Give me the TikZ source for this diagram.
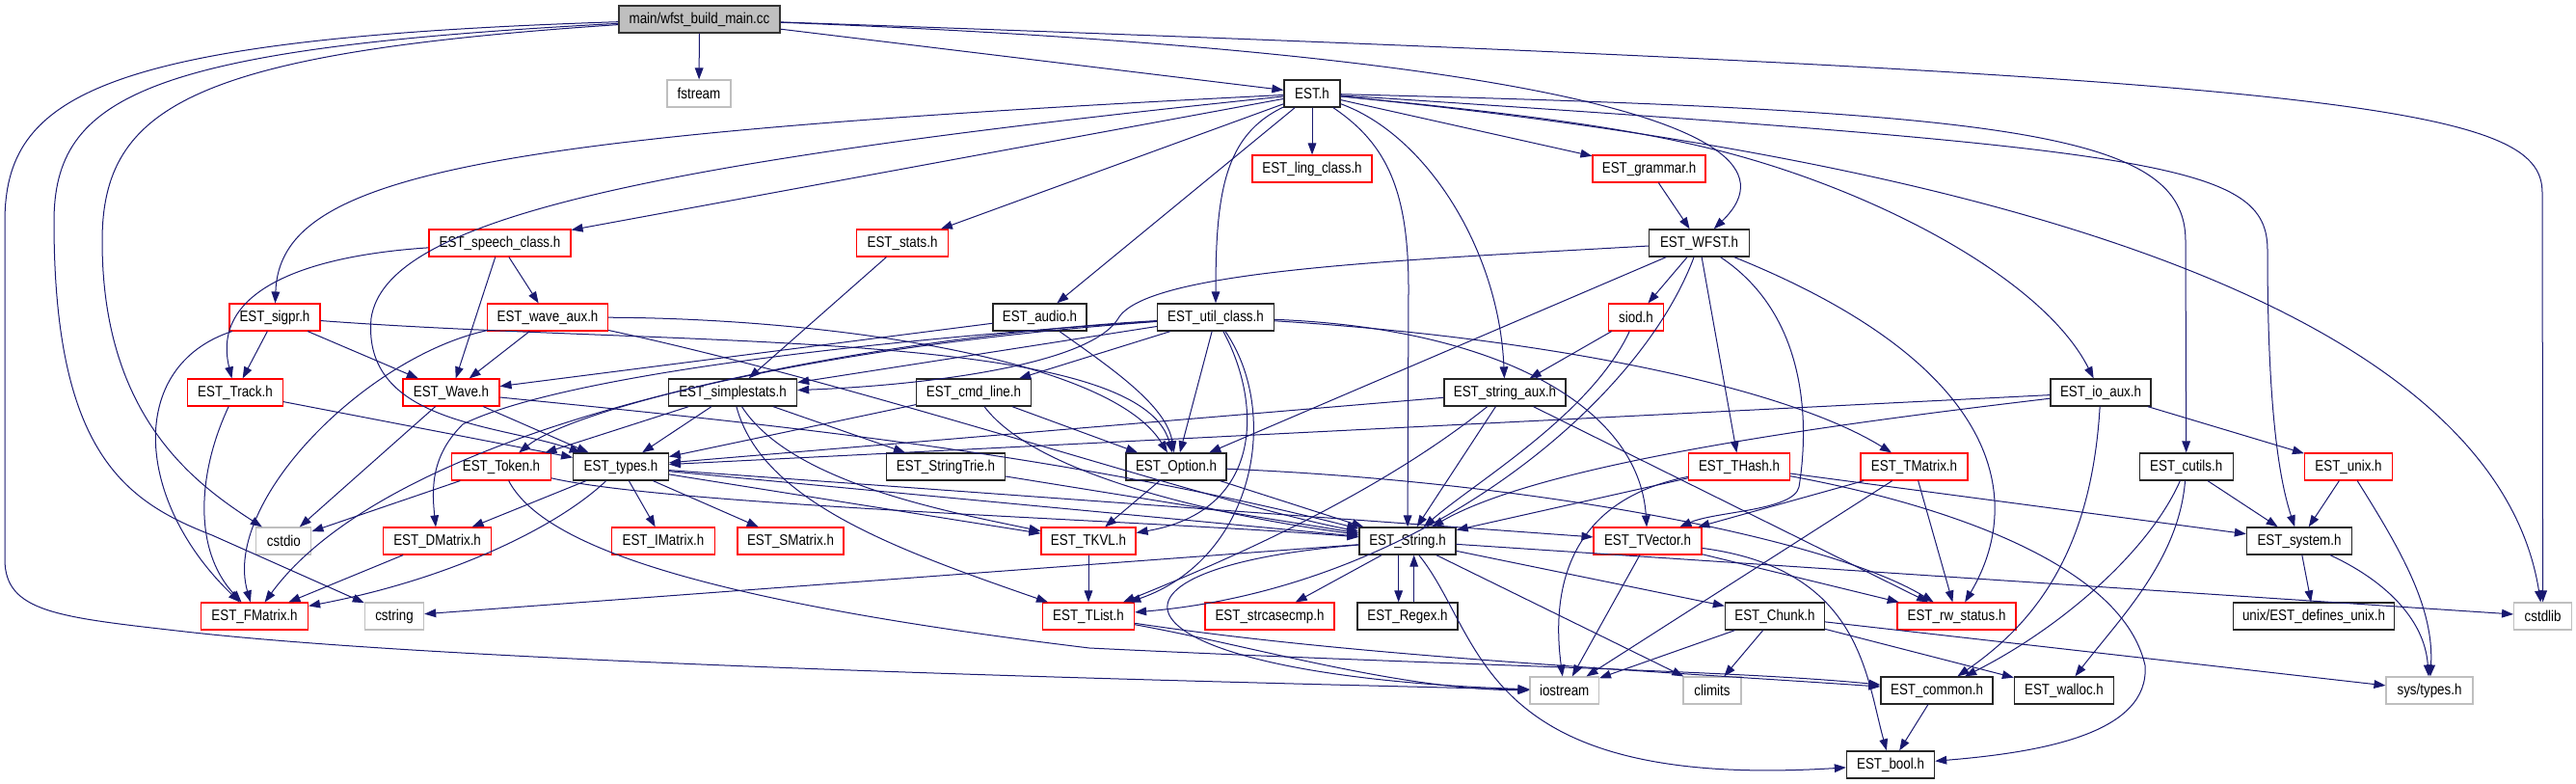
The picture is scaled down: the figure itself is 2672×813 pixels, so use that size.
\documentclass[tikz,border=0pt]{standalone}
\usepackage{fontspec}
\setmainfont{Liberation Sans}[FakeStretch=0.85]
\usetikzlibrary{arrows.meta}
\definecolor{edgeblue}{RGB}{25,25,112}
\definecolor{nodegray}{RGB}{191,191,191}
\definecolor{nodered}{RGB}{255,0,0}
\begin{document}
\begin{tikzpicture}[x=0.75pt,y=-0.75pt,
  box/.style={rectangle, minimum height=21pt, inner sep=0pt, fill=white, font=\fontsize{11.8}{13}\selectfont, text=black},
  docnode/.style={box, draw=black!85, line width=1pt},
  trnode/.style={box, draw=nodered, line width=0.85pt},
  sysnode/.style={box, draw=nodegray, line width=0.85pt},
  rootnode/.style={box, draw=black!80, fill=nodegray, line width=1.2pt},
  dep/.style={draw=edgeblue, line width=0.75pt, -{Triangle[length=9pt,width=6.5pt]}}]
\useasboundingbox (0,0) rectangle (2672,813);

% ---------- nodes ----------
\node[rootnode, minimum width=125.25pt] (main) at (725.5,20) {main/wfst\_build\_main.cc};
\node[sysnode, minimum width=49.5pt] (fstream) at (725,97) {fstream};
\node[docnode, minimum width=43.5pt] (est) at (1361,97) {EST.h};
\node[trnode, minimum width=93pt] (ling) at (1361,175) {EST\_ling\_class.h};
\node[trnode, minimum width=87.75pt] (grammar) at (1710.5,175) {EST\_grammar.h};
\node[trnode, minimum width=110.25pt] (speech) at (518.5,252) {EST\_speech\_class.h};
\node[trnode, minimum width=71.25pt] (stats) at (936,252) {EST\_stats.h};
\node[docnode, minimum width=78pt] (wfst) at (1762.5,252) {EST\_WFST.h};
\node[trnode, minimum width=70.5pt] (sigpr) at (285,329) {EST\_sigpr.h};
\node[trnode, minimum width=93.75pt] (waveaux) at (568,329) {EST\_wave\_aux.h};
\node[docnode, minimum width=72.75pt] (audio) at (1078.5,329) {EST\_audio.h};
\node[docnode, minimum width=90.75pt] (util) at (1261,329) {EST\_util\_class.h};
\node[trnode, minimum width=42.75pt] (siod) at (1697,329) {siod.h};
\node[trnode, minimum width=74.25pt] (track) at (244,407) {EST\_Track.h};
\node[trnode, minimum width=75pt] (wave) at (468,407) {EST\_Wave.h};
\node[docnode, minimum width=99.75pt] (simple) at (760,407) {EST\_simplestats.h};
\node[docnode, minimum width=89.25pt] (cmdline) at (1010,407) {EST\_cmd\_line.h};
\node[docnode, minimum width=94.5pt] (straux) at (1561,407) {EST\_string\_aux.h};
\node[docnode, minimum width=78pt] (ioaux) at (2179,407) {EST\_io\_aux.h};
\node[trnode, minimum width=77.25pt] (token) at (520,484) {EST\_Token.h};
\node[docnode, minimum width=73.9pt] (types) at (644,484) {EST\_types.h};
\node[docnode, minimum width=92.25pt] (trie) at (981,484) {EST\_StringTrie.h};
\node[docnode, minimum width=78pt] (option) at (1220,484) {EST\_Option.h};
\node[trnode, minimum width=78.75pt] (thash) at (1804,484) {EST\_THash.h};
\node[trnode, minimum width=83.25pt] (tmatrix) at (1985.5,484) {EST\_TMatrix.h};
\node[docnode, minimum width=72.75pt] (cutils) at (2267.7,484) {EST\_cutils.h};
\node[trnode, minimum width=68.25pt] (unix) at (2436,484) {EST\_unix.h};
\node[sysnode, minimum width=42.75pt] (cstdio) at (294.4,561) {cstdio};
\node[trnode, minimum width=84pt] (dmatrix) at (453.6,561) {EST\_DMatrix.h};
\node[trnode, minimum width=80.25pt] (imatrix) at (688,561) {EST\_IMatrix.h};
\node[trnode, minimum width=82.5pt] (smatrix) at (820,561) {EST\_SMatrix.h};
\node[trnode, minimum width=73.5pt] (tkvl) at (1129,561) {EST\_TKVL.h};
\node[docnode, minimum width=75pt] (string) at (1460,561) {EST\_String.h};
\node[trnode, minimum width=84pt] (tvector) at (1709,561) {EST\_TVector.h};
\node[docnode, minimum width=81.75pt] (system) at (2385,561) {EST\_system.h};
\node[trnode, minimum width=83.25pt] (fmatrix) at (264,639) {EST\_FMatrix.h};
\node[sysnode, minimum width=46pt] (cstring) at (409,639) {cstring};
\node[trnode, minimum width=71.25pt] (tlist) at (1129,639) {EST\_TList.h};
\node[trnode, minimum width=100.5pt] (strcase) at (1317,639) {EST\_strcasecmp.h};
\node[docnode, minimum width=78pt] (regex) at (1460,639) {EST\_Regex.h};
\node[docnode, minimum width=77.25pt] (chunk) at (1841,639) {EST\_Chunk.h};
\node[trnode, minimum width=92.25pt] (rwstatus) at (2029.5,639) {EST\_rw\_status.h};
\node[docnode, minimum width=125pt] (defunix) at (2400,639) {unix/EST\_defines\_unix.h};
\node[sysnode, minimum width=45pt] (cstdlib) at (2637.6,639) {cstdlib};
\node[sysnode, minimum width=53.5pt] (iostream) at (1622.7,716) {iostream};
\node[sysnode, minimum width=45pt] (climits) at (1776,716) {climits};
\node[docnode, minimum width=87pt] (common) at (2009,716) {EST\_common.h};
\node[docnode, minimum width=77.25pt] (walloc) at (2141,716) {EST\_walloc.h};
\node[sysnode, minimum width=67.5pt] (systypes) at (2520,716) {sys/types.h};
\node[docnode, minimum width=68.25pt] (bool) at (1961,793) {EST\_bool.h};

% ---------- main ----------
\draw[dep] (main) -- (fstream);
\draw[dep] (main) -- (est);
\draw[dep] (main) .. controls (1500,50) and (1900,120) .. (wfst);
\draw[dep] (main) .. controls (2450,80) and (2637,110) .. (2637,200) -- (cstdlib);
\draw[dep] (main) .. controls (200,55) and (106,110) .. (106,250) .. controls (106,430) and (200,500) .. (cstdio);
\draw[dep] (main) .. controls (150,50) and (56,100) .. (56,230) .. controls (56,470) and (130,520) .. (220,555) -- (cstring);
\draw[dep] (main) .. controls (100,40) and (5,100) .. (5,230) -- (5,580) .. controls (5,635) and (60,640) .. (192,655) .. controls (500,690) and (1300,708) .. (iostream);

% ---------- EST.h ----------
\draw[dep] (est) -- (ling);
\draw[dep] (est) -- (grammar);
\draw[dep] (est) .. controls (1440,150) and (1461,200) .. (1461,300) -- (string);
\draw[dep] (est) .. controls (1480,140) and (1555,260) .. (straux);
\draw[dep] (est) .. controls (1600,120) and (1700,135) .. (1790,158) .. controls (1950,200) and (2120,290) .. (ioaux);
\draw[dep] (est) .. controls (2100,115) and (2267,140) .. (2267,250) -- (cutils);
\draw[dep] (est) .. controls (2250,155) and (2352,170) .. (2352,260) .. controls (2352,430) and (2365,500) .. (system);
\draw[dep] (est) .. controls (2300,190) and (2600,400) .. (cstdlib);
\draw[dep] (est) .. controls (500,140) and (290,180) .. (sigpr);
\draw[dep] (est) -- (speech);
\draw[dep] (est) .. controls (650,170) and (400,230) .. (385,330) .. controls (375,440) and (520,440) .. (types);
\draw[dep] (est) -- (stats);
\draw[dep] (est) -- (audio);
\draw[dep] (est) .. controls (1270,140) and (1261,200) .. (util);

% ---------- second level ----------
\draw[dep] (grammar) -- (wfst);
\draw[dep] (stats) -- (simple);
\draw[dep] (speech) .. controls (320,265) and (218,300) .. (track);
\draw[dep] (speech) -- (wave);
\draw[dep] (speech) -- (waveaux);

\draw[dep] (sigpr) -- (track);
\draw[dep] (sigpr) -- (wave);
\draw[dep] (sigpr) .. controls (130,380) and (140,520) .. (fmatrix);
\draw[dep] (sigpr) .. controls (700,360) and (1180,340) .. (option);

\draw[dep] (waveaux) -- (wave);
\draw[dep] (waveaux) .. controls (380,370) and (230,520) .. (fmatrix);
\draw[dep] (waveaux) .. controls (850,330) and (1150,370) .. (option);
\draw[dep] (waveaux) .. controls (900,400) and (1250,520) .. (string);

\draw[dep] (audio) -- (wave);
\draw[dep] (audio) .. controls (1150,380) and (1210,420) .. (option);

\draw[dep] (util) -- (simple);
\draw[dep] (util) -- (cmdline);
\draw[dep] (util) -- (option);
\draw[dep] (util) .. controls (1310,420) and (1310,530) .. (tkvl);
\draw[dep] (util) .. controls (1330,430) and (1300,580) .. (tlist);
\draw[dep] (util) .. controls (1550,340) and (1700,420) .. (tvector);
\draw[dep] (util) .. controls (1600,350) and (1850,400) .. (tmatrix);
\draw[dep] (util) .. controls (900,350) and (600,420) .. (token);
\draw[dep] (util) .. controls (800,360) and (560,400) .. (480,440) .. controls (450,470) and (447,500) .. (dmatrix);
\draw[dep] (util) .. controls (700,370) and (380,480) .. (fmatrix);

\draw[dep] (wfst) -- (siod);
\draw[dep] (wfst) -- (thash);
\draw[dep] (wfst) -- (option);
\draw[dep] (wfst) .. controls (1880,330) and (1875,450) .. (1866,505) .. controls (1860,530) and (1780,530) .. (tvector);
\draw[dep] (wfst) .. controls (2080,380) and (2100,520) .. (rwstatus);
\draw[dep] (wfst) .. controls (1700,420) and (1470,610) .. (tlist);
\draw[dep] (wfst) .. controls (1450,270) and (1190,280) .. (1160,330) .. controls (1130,380) and (950,400) .. (simple);

\draw[dep] (siod) -- (straux);
\draw[dep] (siod) .. controls (1650,430) and (1530,500) .. (string);

% ---------- third level ----------
\draw[dep] (track) .. controls (205,490) and (200,570) .. (fmatrix);
\draw[dep] (track) -- (types);

\draw[dep] (wave) -- (cstdio);
\draw[dep] (wave) -- (types);
\draw[dep] (wave) .. controls (800,440) and (1100,470) .. (string);

\draw[dep] (simple) -- (types);
\draw[dep] (simple) -- (token);
\draw[dep] (simple) -- (trie);
\draw[dep] (simple) .. controls (790,520) and (930,570) .. (tlist);
\draw[dep] (simple) .. controls (820,500) and (980,530) .. (tkvl);

\draw[dep] (cmdline) -- (types);
\draw[dep] (cmdline) -- (option);
\draw[dep] (cmdline) .. controls (1080,500) and (1300,540) .. (string);

\draw[dep] (straux) -- (string);
\draw[dep] (straux) .. controls (1420,520) and (1250,590) .. (tlist);
\draw[dep] (straux) -- (types);
\draw[dep] (straux) -- (rwstatus);

\draw[dep] (ioaux) -- (types);
\draw[dep] (ioaux) .. controls (1900,440) and (1600,480) .. (string);
\draw[dep] (ioaux) .. controls (2170,560) and (2120,640) .. (common);
\draw[dep] (ioaux) -- (unix);

% ---------- fourth level ----------
\draw[dep] (token) -- (cstdio);
\draw[dep] (token) .. controls (700,525) and (1200,540) .. (string);
\draw[dep] (token) .. controls (560,560) and (700,620) .. (1130,672) .. controls (1500,690) and (1800,695) .. (common);

\draw[dep] (types) -- (dmatrix);
\draw[dep] (types) .. controls (580,545) and (470,600) .. (fmatrix);
\draw[dep] (types) -- (imatrix);
\draw[dep] (types) -- (smatrix);
\draw[dep] (types) -- (string);
\draw[dep] (types) -- (tkvl);
\draw[dep] (types) -- (tvector);

\draw[dep] (trie) -- (string);

\draw[dep] (option) -- (tkvl);
\draw[dep] (option) -- (string);
\draw[dep] (option) .. controls (1600,500) and (1900,560) .. (rwstatus);

\draw[dep] (thash) -- (string);
\draw[dep] (thash) .. controls (1620,520) and (1610,620) .. (iostream);
\draw[dep] (thash) -- (system);
\draw[dep] (thash) .. controls (2000,520) and (2200,580) .. (2225,690) .. controls (2230,760) and (2120,780) .. (bool);

\draw[dep] (tmatrix) -- (tvector);
\draw[dep] (tmatrix) -- (rwstatus);
\draw[dep] (tmatrix) -- (iostream);

\draw[dep] (cutils) -- (system);
\draw[dep] (cutils) .. controls (2230,570) and (2140,650) .. (common);
\draw[dep] (cutils) .. controls (2260,580) and (2200,640) .. (walloc);

\draw[dep] (unix) -- (system);
\draw[dep] (unix) .. controls (2490,570) and (2525,630) .. (systypes);

% ---------- fifth level and below ----------
\draw[dep] (dmatrix) -- (fmatrix);
\draw[dep] (tkvl) -- (tlist);

\draw[dep] (string) -- (cstring);
\draw[dep] (string) -- (strcase);
\draw[dep] ([xshift=-7pt]string.south) -- ([xshift=-7pt]regex.north);
\draw[dep] ([xshift=5pt]regex.north) -- ([xshift=5pt]string.south);
\draw[dep] (string) -- (chunk);
\draw[dep] (string) -- (climits);
\draw[dep] (string) .. controls (1100,590) and (1150,700) .. (iostream);
\draw[dep] (string) .. controls (1540,660) and (1530,820) .. (bool);
\draw[dep] (string) -- (cstdlib);

\draw[dep] (tvector) -- (iostream);
\draw[dep] (tvector) -- (rwstatus);
\draw[dep] (tvector) .. controls (1930,590) and (1935,700) .. (bool);

\draw[dep] (system) -- (defunix);
\draw[dep] (system) .. controls (2470,600) and (2515,640) .. (systypes);

\draw[dep] (tlist) .. controls (1300,670) and (1450,715) .. (iostream);
\draw[dep] (tlist) .. controls (1400,680) and (1700,695) .. (common);

\draw[dep] (chunk) -- (iostream);
\draw[dep] (chunk) -- (climits);
\draw[dep] (chunk) -- (walloc);
\draw[dep] (chunk) -- (systypes);

\draw[dep] (common) -- (bool);
\end{tikzpicture}
\end{document}
